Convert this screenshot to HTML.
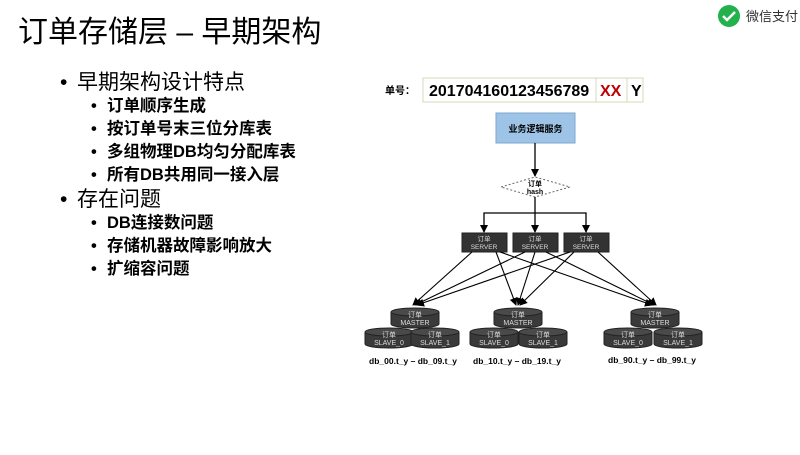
<!DOCTYPE html>
<html><head><meta charset="utf-8"><style>
body{margin:0;width:800px;height:450px;background:#fff;overflow:hidden;font-family:"Liberation Sans","Noto Sans CJK SC",sans-serif;}
</style></head><body>
<svg width="800" height="450" xmlns="http://www.w3.org/2000/svg" font-family="Liberation Sans, Noto Sans CJK SC, sans-serif">
<defs>
<marker id="a" markerWidth="8" markerHeight="8" refX="7" refY="4" orient="auto" markerUnits="userSpaceOnUse"><path d="M0,0 L8,4 L0,8z" fill="#000"/></marker>
<g id="cyl">
<path d="M-24,-6 L-24,6 A24,4 0 0 0 24,6 L24,-6" fill="#3a3a3a" stroke="#222"/>
<ellipse cx="0" cy="-6" rx="24" ry="4" fill="#4a4a4a" stroke="#222"/>
</g>
</defs>
<text x="18" y="42" font-size="30" fill="#000">订单存储层 – 早期架构</text>
<circle cx="729" cy="16" r="11" fill="#22b14c"/>
<path d="M723,16 l4,4 l8,-8" stroke="#fff" stroke-width="2.5" fill="none"/>
<text x="746" y="21" font-size="13" fill="#333">微信支付</text>
<g font-size="21" fill="#000">
<text x="60" y="89">•</text><text x="77" y="89">早期架构设计特点</text>
<text x="60" y="206">•</text><text x="77" y="206">存在问题</text>
</g>
<g font-size="16.5" font-weight="bold" fill="#000">
<text x="91" y="111">•</text><text x="107" y="111">订单顺序生成</text>
<text x="91" y="134">•</text><text x="107" y="134">按订单号末三位分库表</text>
<text x="91" y="157">•</text><text x="107" y="157">多组物理DB均匀分配库表</text>
<text x="91" y="180">•</text><text x="107" y="180">所有DB共用同一接入层</text>
<text x="91" y="228">•</text><text x="107" y="228">DB连接数问题</text>
<text x="91" y="251">•</text><text x="107" y="251">存储机器故障影响放大</text>
<text x="91" y="274">•</text><text x="107" y="274">扩缩容问题</text>
</g>
<text x="385" y="94" font-size="10" font-weight="bold">单号：</text>
<rect x="423" y="78" width="220" height="24" fill="#fff" stroke="#d8d8b8"/>
<line x1="596" y1="78" x2="596" y2="102" stroke="#d8d8b8"/>
<line x1="627" y1="78" x2="627" y2="102" stroke="#d8d8b8"/>
<text x="429" y="96" font-size="16" font-weight="bold">201704160123456789</text>
<text x="600" y="96" font-size="16" font-weight="bold" fill="#c00000">XX</text>
<text x="631" y="96" font-size="16" font-weight="bold">Y</text>
<rect x="496" y="113" width="79" height="30" fill="#9dc3e6" stroke="#7fa7cf"/>
<text x="535.5" y="132" font-size="9" font-weight="bold" text-anchor="middle">业务逻辑服务</text>
<line x1="535" y1="143" x2="535" y2="176" stroke="#000" stroke-width="1.3" marker-end="url(#a)"/>
<polygon points="501,187 535,177 570,187 535,197" fill="#fff" stroke="#666" stroke-dasharray="2,2"/>
<text x="535" y="186" font-size="7" font-weight="bold" text-anchor="middle">订单</text>
<text x="535" y="194" font-size="7" font-weight="bold" text-anchor="middle">hash</text>
<line x1="535" y1="197" x2="535" y2="232" stroke="#000" stroke-width="1.3" marker-end="url(#a)"/>
<polyline points="484,232 484,213 586,213 586,232" fill="none" stroke="#000" stroke-width="1.3"/>
<line x1="484" y1="225" x2="484" y2="232" stroke="#000" marker-end="url(#a)"/>
<line x1="586" y1="225" x2="586" y2="232" stroke="#000" marker-end="url(#a)"/>
<g fill="#333" stroke="#222">
<rect x="462" y="233" width="45" height="19"/><rect x="513" y="233" width="45" height="19"/><rect x="564" y="233" width="45" height="19"/>
</g>
<g font-size="6.5" fill="#ddd" text-anchor="middle">
<text x="484" y="241">订单</text><text x="484" y="249">SERVER</text>
<text x="535" y="241">订单</text><text x="535" y="249">SERVER</text>
<text x="586" y="241">订单</text><text x="586" y="249">SERVER</text>
</g>
<g stroke="#000" stroke-width="1.1" marker-end="url(#a)">
<line x1="472" y1="252" x2="413" y2="305"/><line x1="496" y1="252" x2="516" y2="305"/><line x1="500" y1="252" x2="652" y2="305"/>
<line x1="525" y1="252" x2="415" y2="305"/><line x1="535" y1="252" x2="518" y2="305"/><line x1="546" y1="252" x2="654" y2="305"/>
<line x1="570" y1="252" x2="417" y2="305"/><line x1="574" y1="252" x2="520" y2="305"/><line x1="598" y1="252" x2="656" y2="305"/>
</g>
<use href="#cyl" x="415" y="318"/><use href="#cyl" x="389" y="338"/><use href="#cyl" x="435" y="338"/>
<use href="#cyl" x="518" y="318"/><use href="#cyl" x="494" y="338"/><use href="#cyl" x="543" y="338"/>
<use href="#cyl" x="655" y="318"/><use href="#cyl" x="628" y="338"/><use href="#cyl" x="678" y="338"/>
<g font-size="7" fill="#ddd" text-anchor="middle">
<text x="415" y="317">订单</text><text x="415" y="325">MASTER</text>
<text x="389" y="337">订单</text><text x="389" y="345">SLAVE_0</text>
<text x="435" y="337">订单</text><text x="435" y="345">SLAVE_1</text>
<text x="518" y="317">订单</text><text x="518" y="325">MASTER</text>
<text x="494" y="337">订单</text><text x="494" y="345">SLAVE_0</text>
<text x="543" y="337">订单</text><text x="543" y="345">SLAVE_1</text>
<text x="655" y="317">订单</text><text x="655" y="325">MASTER</text>
<text x="628" y="337">订单</text><text x="628" y="345">SLAVE_0</text>
<text x="678" y="337">订单</text><text x="678" y="345">SLAVE_1</text>
</g>
<g font-size="8.5" font-weight="bold" text-anchor="middle">
<text x="413" y="364">db_00.t_y – db_09.t_y</text>
<text x="517" y="364">db_10.t_y – db_19.t_y</text>
<text x="652" y="363">db_90.t_y – db_99.t_y</text>
</g>
</svg>
</body></html>
